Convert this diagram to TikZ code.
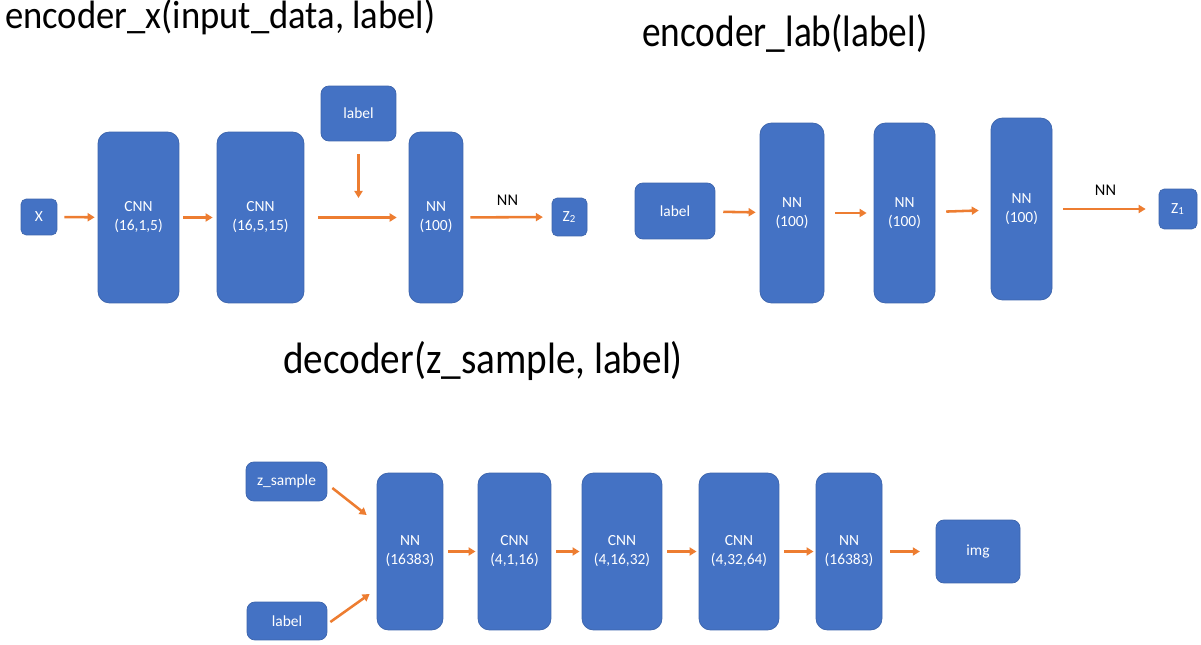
\documentclass[tikz,border=0pt]{standalone}
\usepackage{fontspec}
\setmainfont{Carlito}
\usepackage{tikz}
\usetikzlibrary{arrows.meta, calc}
\definecolor{boxblue}{RGB}{68, 114, 196}
\definecolor{boxline}{RGB}{60, 100, 172}
\definecolor{flow}{RGB}{237, 125, 49}

\begin{document}
\begin{tikzpicture}[x=0.02cm, y=-0.02cm,
    block/.style={fill=boxblue, draw=boxline, line width=0.4pt, text=white,
      align=center, inner sep=0pt, font=\fontsize{8.8}{10.8}\selectfont},
    layer/.style={block, rounded corners=6.5pt},
    tag/.style={block, rounded corners=4.5pt},
    knob/.style={block, rounded corners=3pt},
    arr/.style={draw=flow, line width=1.45pt, -{Triangle[length=4pt, width=4.6pt]},
      shorten <=2.8pt, shorten >=1.2pt},
    op/.style={font=\fontsize{9.3}{10}\selectfont, inner sep=0pt},
    title/.style={font=\fontsize{25}{30}\selectfont, anchor=base west, inner sep=0pt,
      xscale=0.85, transform shape}]
  \useasboundingbox (0, 0) rectangle (1201, 645);

  % encoder_x
  \node[title, font=\fontsize{22.5}{27}\selectfont, xscale=1.09] (tx) at (5, 29) {encoder\_x(input\_data, label)};
  \node[knob, minimum width=0.72cm, minimum height=0.72cm] (xin) at (39, 217) {X};
  \node[layer, minimum width=1.62cm, minimum height=3.42cm] (cnnA) at (138.5, 217.5) {CNN\\(16,1,5)};
  \node[layer, minimum width=1.74cm, minimum height=3.42cm] (cnnB) at (260.5, 217.5) {CNN\\(16,5,15)};
  \node[tag, minimum width=1.50cm, minimum height=1.10cm] (labA) at (358.5, 113.5) {label};
  \node[layer, minimum width=1.08cm, minimum height=3.42cm] (nnA) at (436, 217.5) {NN\\(100)};
  \node[knob, minimum width=0.70cm, minimum height=0.76cm] (zB) at (569.5, 217) {Z\textsubscript{2}};
  \coordinate (join) at (358.5, 198);

  \draw[arr, shorten <=4pt, shorten >=1.7pt] (xin) -- (cnnA);
  \draw[arr, shorten <=2.3pt, shorten >=2.3pt] (cnnA) -- (cnnB);
  \draw[arr, shorten <=7.9pt, shorten >=6.8pt] (cnnB) -- (nnA);
  \draw[arr, shorten <=7.4pt, shorten >=0pt] (labA) -- (join);
  \draw[arr, shorten <=4pt, shorten >=5pt] (nnA) -- node[op, above=6.2pt] (opA) {NN} (zB);

  % encoder_lab
  \node[title] (tl) at (642, 47) {encoder\_lab(label)};
  \node[tag, minimum width=1.60cm, minimum height=1.12cm] (labB) at (675, 211) {label};
  \node[layer, minimum width=1.28cm, minimum height=3.60cm] (nnB) at (792, 213) {NN\\(100)};
  \node[layer, minimum width=1.22cm, minimum height=3.60cm] (nnC) at (904.5, 213) {NN\\(100)};
  \node[layer, minimum width=1.22cm, minimum height=3.64cm] (nnD) at (1021.5, 209) {NN\\(100)};
  \node[knob, minimum width=0.76cm, minimum height=0.80cm] (zA) at (1178, 209) {Z\textsubscript{1}};

  \draw[arr, shorten <=4.5pt, shorten >=2.3pt] (labB) -- (nnB);
  \draw[arr, shorten <=6.2pt, shorten >=4pt] (nnB) -- (nnC);
  \draw[arr, shorten <=6.2pt, shorten >=6.8pt] (nnC) -- (nnD);
  \draw[arr, shorten <=6.2pt, shorten >=7.4pt] (nnD) -- node[op, above=6.8pt] (opB) {NN} (zA);

  % decoder
  \node[title, xscale=1.05] (td) at (283, 374) {decoder(z\_sample, label)};
  \node[tag, minimum width=1.62cm, minimum height=0.78cm] (zs) at (286.5, 481.5) {z\_sample};
  \node[tag, minimum width=1.60cm, minimum height=0.76cm] (labC) at (287, 621) {label};
  \node[layer, minimum width=1.32cm, minimum height=3.14cm] (nnE) at (410, 551.5) {NN\\(16383)};
  \node[layer, minimum width=1.46cm, minimum height=3.14cm] (cnnC) at (514.5, 551.5) {CNN\\(4,1,16)};
  \node[layer, minimum width=1.60cm, minimum height=3.14cm] (cnnD) at (622, 551.5) {CNN\\(4,16,32)};
  \node[layer, minimum width=1.60cm, minimum height=3.14cm] (cnnE) at (739, 551.5) {CNN\\(4,32,64)};
  \node[layer, minimum width=1.32cm, minimum height=3.14cm] (nnF) at (849, 551.5) {NN\\(16383)};
  \node[tag, minimum width=1.68cm, minimum height=1.26cm] (img) at (978, 551.5) {img};

  \draw[arr, shorten <=0pt, shorten >=0pt] ([xshift=0.1cm, yshift=-0.13cm]zs.east) -- ([xshift=-0.2cm, yshift=0.73cm]nnE.west);
  \draw[arr, shorten <=0pt, shorten >=0pt] ([xshift=0.06cm, yshift=-0.02cm]labC.east) -- ([xshift=-0.14cm, yshift=-0.85cm]nnE.west);
  \foreach \a/\b in {nnE/cnnC, cnnC/cnnD, cnnD/cnnE, cnnE/nnF}
    \draw[arr] (\a) -- (\b);
  \draw[arr, shorten <=4.5pt, shorten >=9pt] (nnF) -- (img);
\end{tikzpicture}
\end{document}
